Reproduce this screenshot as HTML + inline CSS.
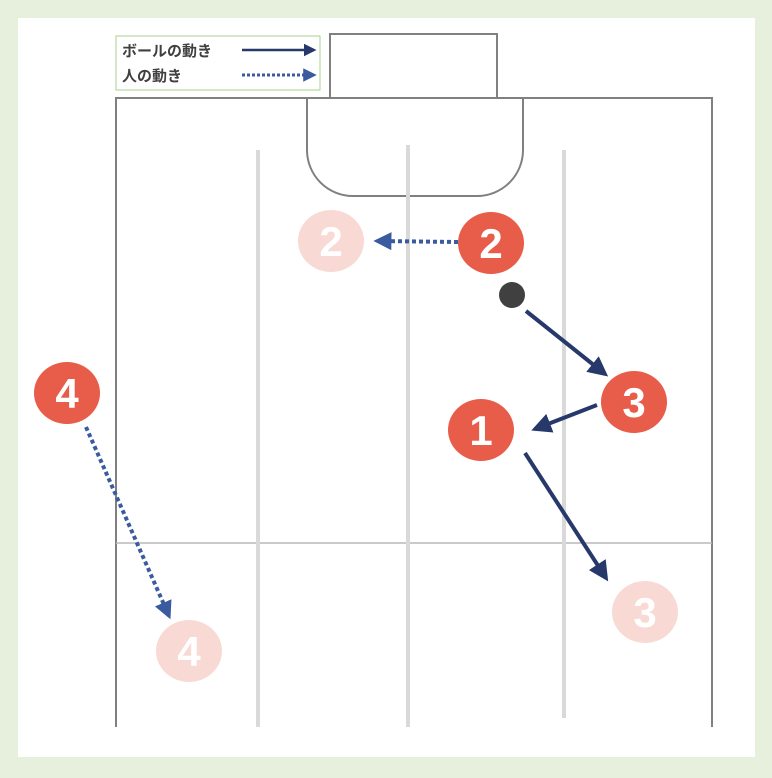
<!DOCTYPE html>
<html><head><meta charset="utf-8"><style>html,body{margin:0;background:#e6f0dc;overflow:hidden}svg{display:block}</style></head><body>
<svg width="772" height="778" xmlns="http://www.w3.org/2000/svg" font-family="Liberation Sans, Noto Sans CJK JP, sans-serif">
<defs>
<marker id="a" viewBox="0 0 10 10" refX="8" refY="5" markerWidth="5" markerHeight="5" orient="auto"><path d="M0,0L10,5L0,10z" fill="#27396b"/></marker>
<marker id="b" viewBox="0 0 10 10" refX="8" refY="5" markerWidth="4.5" markerHeight="4.5" orient="auto"><path d="M0,0L10,5L0,10z" fill="#3b5ba0"/></marker>
</defs>
<rect x="0" y="0" width="772" height="778" fill="#e6f0dc"/>
<rect x="18" y="18" width="737" height="739" fill="#fff"/>
<path d="M116,727V98H712V727" fill="none" stroke="#808080" stroke-width="2"/>
<line x1="116" y1="543" x2="712" y2="543" stroke="#b8b8b8" stroke-width="1.5"/>
<rect x="330" y="34" width="167" height="64" fill="none" stroke="#808080" stroke-width="2"/>
<path d="M307,98V150A46,46 0 0 0 353,196H477A46,46 0 0 0 523,150V98" fill="none" stroke="#808080" stroke-width="2"/>
<g stroke="#d9d9d9" stroke-width="4">
<line x1="258" y1="150" x2="258" y2="727"/>
<line x1="408" y1="145" x2="408" y2="727"/>
<line x1="564" y1="150" x2="564" y2="718"/>
</g>
<rect x="116" y="36" width="204" height="54" fill="#fff" stroke="#a9d18e" stroke-width="1"/>
<text x="122" y="56" font-size="15" font-weight="bold" fill="#404040">ボールの動き</text>
<text x="122" y="81" font-size="15" font-weight="bold" fill="#404040">人の動き</text>
<line x1="242" y1="50" x2="314" y2="50" stroke="#27396b" stroke-width="2.5" marker-end="url(#a)"/>
<line x1="242" y1="75" x2="314" y2="75" stroke="#3b5ba0" stroke-width="3" stroke-dasharray="3,2" marker-end="url(#b)"/>
<line x1="458" y1="242" x2="377" y2="241" stroke="#3b5ba0" stroke-width="4" stroke-dasharray="4,3" marker-end="url(#b)"/>
<line x1="86" y1="427" x2="169" y2="616" stroke="#3b5ba0" stroke-width="4" stroke-dasharray="4,3" marker-end="url(#b)"/>
<g stroke="#27396b" stroke-width="4" marker-end="url(#a)">
<line x1="526" y1="311" x2="605" y2="374"/>
<line x1="597" y1="405" x2="535" y2="429"/>
<line x1="525" y1="453" x2="606" y2="578"/>
</g>
<circle cx="512" cy="295" r="13" fill="#404040"/>
<g font-size="42" font-weight="bold" fill="#fff" text-anchor="middle" font-family="Liberation Sans, sans-serif">
<ellipse cx="331" cy="241" rx="33" ry="31" fill="#f9d9d4"/><text x="331" y="256">2</text>
<ellipse cx="491" cy="243" rx="33" ry="31" fill="#e85c4a"/><text x="491" y="258">2</text>
<ellipse cx="634" cy="402" rx="33" ry="31" fill="#e85c4a"/><text x="634" y="417">3</text>
<ellipse cx="481" cy="430" rx="33" ry="31" fill="#e85c4a"/><text x="481" y="445">1</text>
<ellipse cx="67" cy="393" rx="33" ry="31" fill="#e85c4a"/><text x="67" y="408">4</text>
<ellipse cx="189" cy="651" rx="33" ry="31" fill="#f9d9d4"/><text x="189" y="666">4</text>
<ellipse cx="645" cy="612" rx="33" ry="31" fill="#f9d9d4"/><text x="645" y="627">3</text>
</g>
</svg>
</body></html>
